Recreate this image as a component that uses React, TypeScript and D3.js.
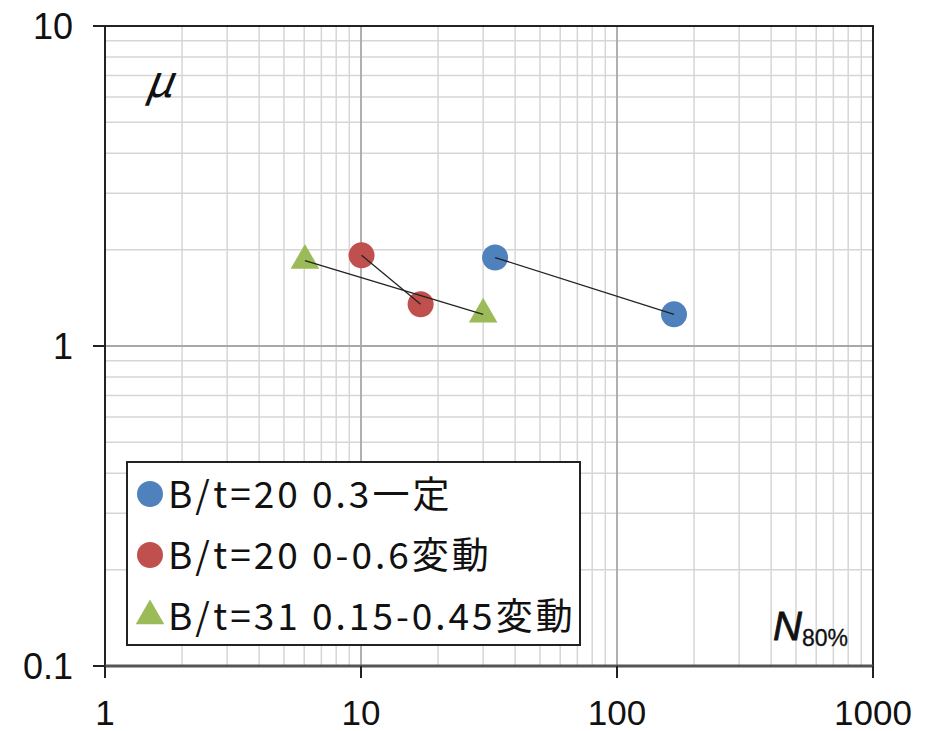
import React from "react";
import * as d3 from "d3";

const seriesNames = ["B/t=20 0.3一定", "B/t=20 0-0.6変動", "B/t=31 0.15-0.45変動"];
const seriesColors = ["#4F81BD", "#C0504D", "#9BBB59"];
const seriesShapes = ["circle", "circle", "triangle"];
const blueX = [33.4, 167];
const blueY = [1.89, 1.256];
const redX = [10.05, 17.1];
const redY = [1.92, 1.35];
const greenX = [6.04, 30.0];
const greenY = [1.85, 1.256];
const xTicks = [1, 10, 100, 1000];
const yTicks = [0.1, 1, 10];
const xTickLabels = ["1", "10", "100", "1000"];
const yTickLabels = ["0.1", "1", "10"];

const W = 936, H = 731;
const left = 105, right = 873, top = 26, bottom = 666;

export default function App() {
  const x = d3.scaleLog().domain([1, 1000]).range([left, right]);
  const y = d3.scaleLog().domain([0.1, 10]).range([bottom, top]);
  const series = [
    { xs: blueX, ys: blueY },
    { xs: redX, ys: redY },
    { xs: greenX, ys: greenY },
  ];
  const minorX: number[] = [];
  for (let d = 1; d < 1000; d *= 10) for (let k = 2; k <= 9; k++) minorX.push(d * k);
  const minorY: number[] = [];
  for (let d = 0.1; d < 9.99; d *= 10) for (let k = 2; k <= 9; k++) minorY.push(d * k);
  const majorX = [10, 100];
  const majorY = [1];
  const line = d3.line<[number, number]>().x(d => x(d[0])).y(d => y(d[1]));
  const font = "'Liberation Sans', Arial, 'Noto Sans CJK JP', sans-serif";
  const jfont = "'Noto Sans CJK JP', sans-serif";

  const marker = (shape: string, cx: number, cy: number, color: string, r: number, key: string) =>
    shape === "circle" ? (
      <circle key={key} cx={cx} cy={cy} r={r} fill={color} />
    ) : (
      <path key={key} d={d3.symbol().type(d3.symbolTriangle).size(r * r * 2.1)()!} transform={`translate(${cx},${cy})`} fill={color} />
    );

  const legX = 127, legY = 462, legW = 453, legH = 183;
  return (
    <svg width={W} height={H} style={{ position: "absolute", left: 0, top: 0, background: "#fff" }}>
      <rect x={0} y={0} width={W} height={H} fill="#fff" />
      {minorX.map(v => (
        <line key={"mx" + v} x1={x(v)} x2={x(v)} y1={top} y2={bottom} stroke="#d6d6d6" strokeWidth={1.5} />
      ))}
      {minorY.map(v => (
        <line key={"my" + v} x1={left} x2={right} y1={y(v)} y2={y(v)} stroke="#d6d6d6" strokeWidth={1.5} />
      ))}
      {majorX.map(v => (
        <line key={"Mx" + v} x1={x(v)} x2={x(v)} y1={top} y2={bottom} stroke="#a8a8a8" strokeWidth={1.8} />
      ))}
      {majorY.map(v => (
        <line key={"My" + v} x1={left} x2={right} y1={y(v)} y2={y(v)} stroke="#a8a8a8" strokeWidth={1.8} />
      ))}
      {/* frame */}
      <rect x={left} y={top} width={right - left} height={bottom - top} fill="none" stroke="#222" strokeWidth={2} />
      <line x1={left} x2={right} y1={bottom} y2={bottom} stroke="#555" strokeWidth={3} />
      {xTicks.map(v => (
        <line key={"xt" + v} x1={x(v)} x2={x(v)} y1={bottom} y2={bottom + 12} stroke="#222" strokeWidth={2} />
      ))}
      {yTicks.map(v => (
        <line key={"yt" + v} x1={left - 12} x2={left} y1={y(v)} y2={y(v)} stroke="#222" strokeWidth={2} />
      ))}
      {xTicks.map((v, i) => (
        <text key={"xl" + v} x={x(v)} y={725} textAnchor="middle" fontFamily={font} fontSize={35} fill="#111">{xTickLabels[i]}</text>
      ))}
      {yTicks.map((v, i) => (
        <text key={"yl" + v} x={73} y={y(v) + 13} textAnchor="end" fontFamily={font} fontSize={36} fill="#111">{yTickLabels[i]}</text>
      ))}
      {series.map((s, i) =>
        s.xs.map((xv, j) => marker(seriesShapes[i], x(xv), y(s.ys[j]), seriesColors[i], 13, `m${i}-${j}`))
      )}
      {/* thin black connecting lines drawn over the markers */}
      {series.map((s, i) => (
        <path key={"ln" + i} d={line(s.xs.map((xv, j) => [xv, s.ys[j]] as [number, number]))!} fill="none" stroke="#222" strokeWidth={1.3} />
      ))}
      {/* axis titles */}
      <text x={146} y={97} fontFamily={jfont} fontStyle="italic" fontSize={44} fill="#111" transform="skewX(-8) translate(12,0)">μ</text>
      <text x={773} y={640} fontFamily={font} fontStyle="italic" fontSize={40} fill="#111" stroke="#111" strokeWidth={0.8}>N<tspan fontSize={23} fontStyle="normal" strokeWidth={0.3} dy={6}>80%</tspan></text>
      {/* legend */}
      <rect x={legX} y={legY} width={legW} height={legH} fill="#fff" stroke="#222" strokeWidth={2} />
      {seriesNames.map((n, i) => (
        <g key={"lg" + i}>
          {marker(seriesShapes[i], 150, 494 + i * 61, seriesColors[i], 13, "lm" + i)}
          <text x={168} y={508 + i * 61} fontFamily={jfont} fontSize={37} letterSpacing={3} fill="#111">{n}</text>
        </g>
      ))}
    </svg>
  );
}
